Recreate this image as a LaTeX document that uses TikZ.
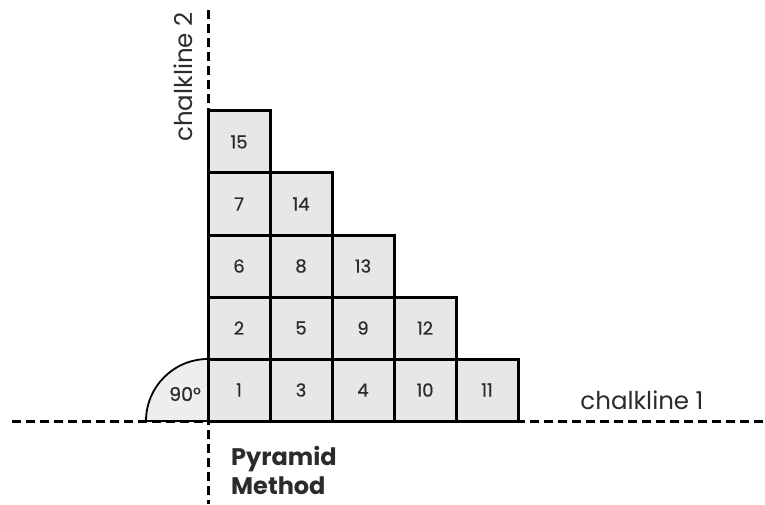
\documentclass[tikz,border=0pt]{standalone}
\usepackage{fontspec}
\setmainfont{Poppins}
\usetikzlibrary{positioning}
\definecolor{tilegrey}{HTML}{E6E7E8}
\definecolor{arcgrey}{HTML}{EEEEEE}
\definecolor{ink}{HTML}{2B2B2B}
\tikzset{%
	chalk/.style = {line width = 3pt, dash pattern = on 9pt off 5pt},
	tile/.style = {name = t#1, rectangle, draw, line width = 3pt, fill = tilegrey, minimum size = 62pt, inner sep = 0pt, label = {[text = ink, font = \fontsize{18}{18}\selectfont\addfontfeature{FakeBold=0.6}]center:#1}},
	caption/.style = {text = ink, font = \fontsize{24.5}{24.5}\selectfont}
}
\begin{document}
\begin{tikzpicture}[x = 1pt, y = 1pt]
			\useasboundingbox (0,0) rectangle (765,504);
			\coordinate (left) at (12,83);
			\coordinate (right) at (765,83);
			\coordinate (top) at (208,494);
			\coordinate (bottom) at (208,0);
			\coordinate (corner) at (208,83);
			\filldraw [fill = arcgrey, line width = 1.8pt] (corner) -- (146,83) arc [start angle = 180, end angle = 90, radius = 62pt] -- cycle;
			\draw [chalk] (left) -- (right);
			\draw [chalk] (top) -- (bottom);
			\node [tile = {1}] at (239,114) {};
			\node [tile = {3}] at (301,114) {};
			\node [tile = {4}] at (363,114) {};
			\node [tile = {10}] at (425,114) {};
			\node [tile = {11}] at (487,114) {};
			\node [tile = {2}] at (239,176) {};
			\node [tile = {5}] at (301,176) {};
			\node [tile = {9}] at (363,176) {};
			\node [tile = {12}] at (425,176) {};
			\node [tile = {6}] at (239,238) {};
			\node [tile = {8}] at (301,238) {};
			\node [tile = {13}] at (363,238) {};
			\node [tile = {7}] at (239,300) {};
			\node [tile = {14}] at (301,300) {};
			\node [tile = {15}] at (239,362) {};
			\node [caption, font = \fontsize{19}{19}\selectfont\addfontfeature{FakeBold=0.6}] (angle) at (185,110) {90°};
			\node [caption] (line1) at (642,104) {chalkline 1};
			\node [caption, rotate = 90] (line2) at (183,427) {chalkline 2};
			\node [caption, font = \fontsize{24}{29}\bfseries, align = left, anchor = north west, inner sep = 0pt] (method) at (231,58) {Pyramid\\Method};
\end{tikzpicture}
\end{document}
